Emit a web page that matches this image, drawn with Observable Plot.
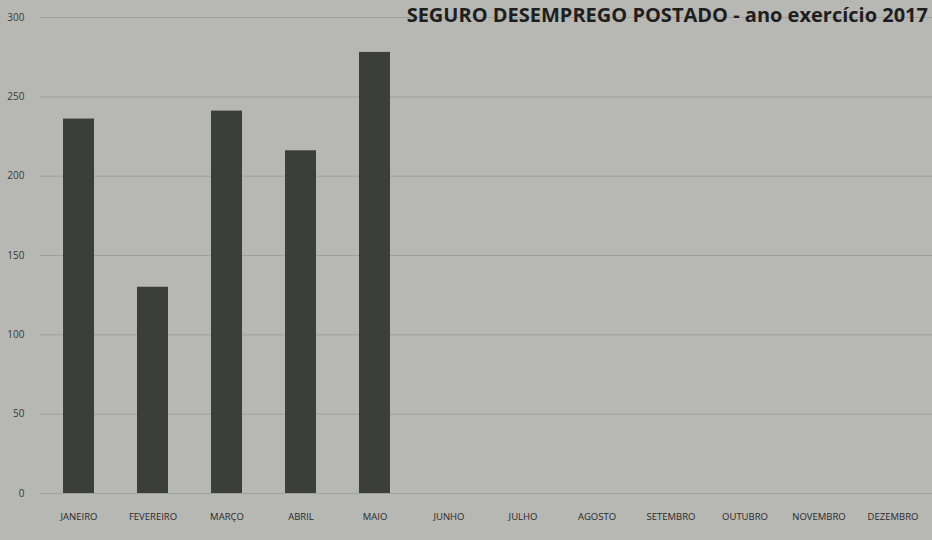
<!DOCTYPE html>
<html>
<head>
<meta charset="utf-8">
<script src="https://cdn.jsdelivr.net/npm/d3@7"></script>
<script src="https://cdn.jsdelivr.net/npm/@observablehq/plot@0.6"></script>
<style>
  html, body { margin: 0; padding: 0; background: #b7b7b4; overflow: hidden; }
  #wrap { position: relative; width: 932px; height: 540px; }
  #title { position: absolute; right: 4px; top: 4px; line-height: 1.1; font-family: "Open Sans", "Liberation Sans", sans-serif; font-weight: 700; font-size: 20px; color: #1e1e1e; white-space: nowrap; z-index: 2; }
</style>
</head>
<body>
<div id="wrap">
  <div id="title">SEGURO DESEMPREGO POSTADO - ano exercício 2017</div>
  <div id="chart"></div>
</div>
<script>
const months = ["JANEIRO","FEVEREIRO","MARÇO","ABRIL","MAIO","JUNHO","JULHO","AGOSTO","SETEMBRO","OUTUBRO","NOVEMBRO","DEZEMBRO"];
const values = [236, 130, 241, 216, 278, null, null, null, null, null, null, null];
const yTicks = [0, 50, 100, 150, 200, 250, 300];

const data = months.map((m, i) => ({month: m, value: values[i]})).filter(d => d.value != null);

const chart = Plot.plot({
  width: 932,
  height: 540,
  marginTop: 17,
  marginBottom: 47,
  marginLeft: 40,
  marginRight: 0,
  style: {background: "#b7b7b4", fontFamily: "'Open Sans', 'Liberation Sans', sans-serif", color: "#2a2a2a"},
  x: {domain: months, paddingInner: 0.58, paddingOuter: 0.29, label: null},
  y: {domain: [0, 300], label: null},
  marks: [
    Plot.gridY(yTicks, {stroke: "#8a8a88", strokeOpacity: 0.5, strokeWidth: 1}),
    Plot.barY(data, {x: "month", y: "value", fill: "#3b3e3b"}),
    Plot.axisX({tickSize: 0, tickPadding: 20, fontSize: 9.5, fill: "#2a2a2a"}),
    Plot.axisY({ticks: yTicks, tickSize: 0, tickPadding: 16, fontSize: 10, fill: "#3a3a3a"})
  ]
});
document.getElementById("chart").appendChild(chart);
</script>
</body>
</html>
